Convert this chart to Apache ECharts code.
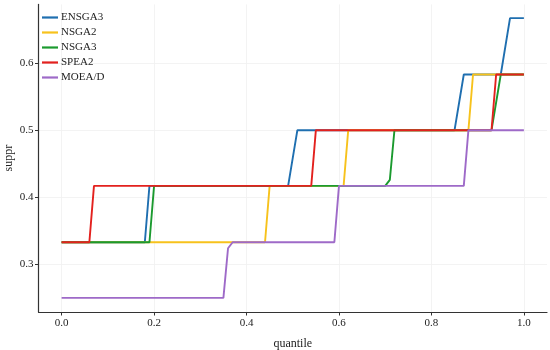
<!DOCTYPE html>
<html><head><meta charset="utf-8">
<script src="https://cdn.jsdelivr.net/npm/echarts@6/dist/echarts.min.js"></script>
<style>html,body{margin:0;padding:0;background:#fff}#c{width:550px;height:350px}</style>
</head><body><div id="c"></div>
<script>
// quantile breakpoints (x) and suppr values (y) per algorithm
const ENSGA3_x = [0, 0.18, 0.19, 0.49, 0.51, 0.85, 0.87, 0.95, 0.97, 1.0];
const ENSGA3_y = [0.333, 0.333, 0.417, 0.417, 0.5, 0.5, 0.583, 0.583, 0.667, 0.667];
const NSGA2_x = [0, 0.44, 0.45, 0.61, 0.62, 0.88, 0.89, 1.0];
const NSGA2_y = [0.333, 0.333, 0.417, 0.417, 0.5, 0.5, 0.583, 0.583];
const NSGA3_x = [0, 0.19, 0.20, 0.70, 0.71, 0.72, 0.93, 0.95, 1.0];
const NSGA3_y = [0.333, 0.333, 0.417, 0.417, 0.426, 0.5, 0.5, 0.583, 0.583];
const SPEA2_x = [0, 0.06, 0.07, 0.54, 0.55, 0.93, 0.94, 1.0];
const SPEA2_y = [0.333, 0.333, 0.417, 0.417, 0.5, 0.5, 0.583, 0.583];
const MOEAD_x = [0, 0.35, 0.36, 0.37, 0.59, 0.60, 0.87, 0.88, 1.0];
const MOEAD_y = [0.25, 0.25, 0.324, 0.333, 0.333, 0.417, 0.417, 0.5, 0.5];
const names = ['ENSGA3', 'NSGA2', 'NSGA3', 'SPEA2', 'MOEA/D'];
const colors = ['#1f6fb0', '#f7c21c', '#1b9a2f', '#e3211e', '#9e6ac8'];
const xTicks = [0, 0.2, 0.4, 0.6, 0.8, 1.0];
const yTicks = [0.3, 0.4, 0.5, 0.6];

const xs = [ENSGA3_x, NSGA2_x, NSGA3_x, SPEA2_x, MOEAD_x];
const ys = [ENSGA3_y, NSGA2_y, NSGA3_y, SPEA2_y, MOEAD_y];
const font = 'Liberation Serif';

const series = names.map((n, i) => ({
  name: n, type: 'line', showSymbol: false, symbol: 'none',
  data: xs[i].map((x, j) => [x, ys[i][j]]),
  lineStyle: { color: colors[i], width: 1.9 },
  itemStyle: { color: colors[i] },
  z: 2 + i, animation: false
}));

const chart = echarts.init(document.getElementById('c'), null, { renderer: 'canvas' });
chart.setOption({
  animation: false,
  backgroundColor: '#fff',
  textStyle: { fontFamily: font },
  grid: { left: 38.5, right: 3, top: 4.4, bottom: 38, containLabel: false, outerBoundsMode: 'none' },
  legend: {
    orient: 'vertical', left: 37, top: 6,
    icon: 'rect', itemWidth: 16, itemHeight: 2.2, itemGap: 2,
    textStyle: { fontFamily: font, fontSize: 11, color: '#222', lineHeight: 13, padding: [0, 0, 0, -2] },
    data: names
  },
  xAxis: {
    type: 'value', min: -0.05, max: 1.05,
    name: 'quantile', nameLocation: 'middle', nameGap: 26, nameMoveOverlap: false,
    nameTextStyle: { fontFamily: font, fontSize: 12, color: '#222' },
    axisLine: { show: true, onZero: false, lineStyle: { color: '#333', width: 1.2 } },
    axisTick: { show: true, length: 3.5, customValues: xTicks, lineStyle: { color: '#333', width: 1 } },
    axisLabel: { customValues: xTicks, fontFamily: font, fontSize: 11, color: '#222', margin: 6,
      formatter: v => v.toFixed(1) },
    splitLine: { show: true, lineStyle: { color: '#f0f0f0', width: 0.8 } }
  },
  yAxis: {
    type: 'value', min: 0.229, max: 0.6875,
    name: 'suppr', nameLocation: 'middle', nameGap: 24, nameRotate: 90, nameMoveOverlap: false,
    nameTextStyle: { fontFamily: font, fontSize: 12, color: '#222' },
    axisLine: { show: true, onZero: false, lineStyle: { color: '#333', width: 1.2 } },
    axisTick: { show: true, length: 3.5, customValues: yTicks, lineStyle: { color: '#333', width: 1 } },
    axisLabel: { customValues: yTicks, fontFamily: font, fontSize: 11, color: '#222', margin: 5,
      formatter: v => v.toFixed(1) },
    splitLine: { show: true, lineStyle: { color: '#f0f0f0', width: 0.8 } }
  },
  series: series
});
</script></body></html>
